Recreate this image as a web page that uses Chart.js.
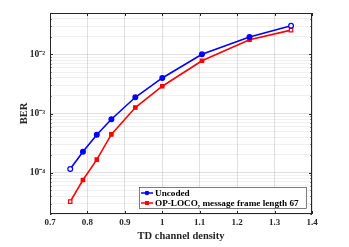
<!DOCTYPE html>
<html>
<head>
<meta charset="utf-8">
<script src="https://cdn.jsdelivr.net/npm/chart.js@4/dist/chart.umd.min.js"></script>
<style>
  html, body { margin: 0; padding: 0; background: #fff; }
  #wrap { width: 349px; height: 247px; }
</style>
</head>
<body>
<div id="wrap"><canvas id="ber-chart" width="349" height="247"></canvas></div>
<script>
const density = [0.754, 0.788, 0.825, 0.864, 0.928, 1.0, 1.106, 1.233, 1.344];
const uncoded = [1.15e-4, 2.26e-4, 4.37e-4, 8.0e-4, 1.88e-3, 3.99e-3, 1.0e-2, 1.96e-2, 3.04e-2];
const oploco = [3.24e-5, 7.5e-5, 1.66e-4, 4.43e-4, 1.26e-3, 2.89e-3, 7.8e-3, 1.77e-2, 2.57e-2];
const seriesNames = ["Uncoded", "OP-LOCO, message frame length 67"];
const xTicks = [0.7, 0.8, 0.9, 1, 1.1, 1.2, 1.3, 1.4];
const yDecades = [1e-4, 1e-3, 1e-2];

const FONT = "'Liberation Serif', 'Times New Roman', serif";
const AXIS_COLOR = "#262626";

function toPoints(ys) {
  return ys.map((y, i) => ({ x: density[i], y: y }));
}

// all 1..9 x 10^n ticks inside the y range, for the minor grid
function logTicks(min, max) {
  const out = [];
  for (let e = -5; e <= -1; e++) {
    for (let k = 1; k <= 9; k++) {
      const v = k * Math.pow(10, e);
      if (v >= min * 0.999 && v <= max * 1.001) out.push({ value: v });
    }
  }
  return out;
}

function isDecade(v) {
  return yDecades.some((d) => Math.abs(v - d) / d < 1e-6);
}

const supMap = { "-": "\u207B", "0": "\u2070", "1": "\u00B9", "2": "\u00B2", "3": "\u00B3", "4": "\u2074", "5": "\u2075" };

// box, inward ticks and in-plot legend, drawn after the data
const frame = {
  id: "frame",
  afterDatasetsDraw(chart) {
    const { ctx, chartArea: a, scales } = chart;
    ctx.save();
    ctx.strokeStyle = AXIS_COLOR;
    ctx.lineWidth = 1;
    ctx.strokeRect(a.left + 0.5, a.top + 0.5, a.right - a.left - 1, a.bottom - a.top - 1);
    ctx.beginPath();
    xTicks.forEach((t) => {
      const px = Math.round(scales.x.getPixelForValue(t)) + 0.5;
      ctx.moveTo(px, a.bottom); ctx.lineTo(px, a.bottom - 3);
      ctx.moveTo(px, a.top); ctx.lineTo(px, a.top + 3);
    });
    logTicks(2e-5, 5e-2).forEach((t) => {
      const py = Math.round(scales.y.getPixelForValue(t.value)) + 0.5;
      const len = isDecade(t.value) ? 3 : 1.5;
      ctx.moveTo(a.left, py); ctx.lineTo(a.left + len, py);
      ctx.moveTo(a.right, py); ctx.lineTo(a.right - len, py);
    });
    ctx.stroke();

    // legend
    const lx = 139, ly = 187, lw = 167, lh = 21;
    ctx.fillStyle = "#fff";
    ctx.fillRect(lx, ly, lw, lh);
    ctx.strokeStyle = "#262626";
    ctx.lineWidth = 0.6;
    ctx.strokeRect(lx + 0.5, ly + 0.5, lw, lh);
    ctx.font = "bold 9.2px " + FONT;
    ctx.textBaseline = "middle";
    chart.data.datasets.forEach((ds, i) => {
      const cy = ly + 6 + i * 10;
      ctx.strokeStyle = ds.borderColor;
      ctx.lineWidth = 1.5;
      ctx.beginPath();
      ctx.moveTo(lx + 2, cy); ctx.lineTo(lx + 14, cy);
      ctx.stroke();
      ctx.fillStyle = ds.borderColor;
      ctx.beginPath();
      if (ds.pointStyle === "rect") ctx.rect(lx + 6, cy - 2, 4, 4);
      else ctx.arc(lx + 8, cy, 2.3, 0, Math.PI * 2);
      ctx.fill();
      ctx.fillStyle = "#000";
      ctx.fillText(ds.label, lx + 16, cy + 0.5);
    });
    ctx.restore();
  },
};

function endHollow(color) {
  return density.map((d, i) => (i === 0 || i === density.length - 1 ? "#fff" : color));
}

new Chart(document.getElementById("ber-chart").getContext("2d"), {
  type: "line",
  data: {
    datasets: [
      {
        label: seriesNames[0],
        data: toPoints(uncoded),
        borderColor: "#0000ff",
        backgroundColor: "#0000ff",
        pointBackgroundColor: endHollow("#0000ff"),
        pointBorderColor: "#0000ff",
        pointStyle: "circle",
        pointRadius: 2.4,
        pointBorderWidth: 1.2,
        borderWidth: 1.6,
      },
      {
        label: seriesNames[1],
        data: toPoints(oploco),
        borderColor: "#ff0000",
        backgroundColor: "#ff0000",
        pointBackgroundColor: endHollow("#ff0000"),
        pointBorderColor: "#ff0000",
        pointStyle: "rect",
        pointRadius: 2.4,
        pointBorderWidth: 1.2,
        borderWidth: 1.6,
      },
    ],
  },
  options: {
    responsive: false,
    animation: false,
    layout: { padding: { left: 18, right: 37, top: 13, bottom: 0 } },
    plugins: { legend: { display: false }, tooltip: { enabled: false } },
    scales: {
      x: {
        type: "linear",
        min: 0.7,
        max: 1.4,
        afterBuildTicks: (s) => { s.ticks = xTicks.map((v) => ({ value: v })); },
        afterFit: (s) => { s.height = 33; },
        ticks: {
          color: "#262626",
          font: { family: FONT, size: 9, weight: "bold" },
          padding: 3,
          maxRotation: 0,
          callback: (v) => String(Number(v.toFixed(1))),
        },
        grid: { color: "rgba(0,0,0,0.12)", drawTicks: false },
        border: { display: false },
        title: {
          display: true,
          text: "TD channel density",
          color: "#262626",
          font: { family: FONT, size: 10.5, weight: "bold" },
          padding: { top: 2 },
        },
      },
      y: {
        type: "logarithmic",
        min: 2e-5,
        max: 5e-2,
        afterBuildTicks: (s) => { s.ticks = logTicks(2e-5, 5e-2); },
        afterFit: (s) => { s.width = 32; },
        ticks: {
          color: "#262626",
          font: { family: FONT, size: 9.5, weight: "bold" },
          padding: 5,
          autoSkip: false,
          callback: (v) => {
            if (!isDecade(v)) return "";
            const e = String(Math.round(Math.log10(v)));
            return "10" + e.split("").map((c) => supMap[c]).join("");
          },
        },
        grid: {
          color: (c) => (c.tick && isDecade(c.tick.value) ? "rgba(0,0,0,0.12)" : "rgba(0,0,0,0.06)"),
          drawTicks: false,
        },
        border: { display: false },
        title: {
          display: true,
          text: "BER",
          color: "#262626",
          font: { family: FONT, size: 10.5, weight: "bold" },
          padding: { top: 0, bottom: 0 },
        },
      },
    },
  },
  plugins: [frame],
});
</script>
</body>
</html>
